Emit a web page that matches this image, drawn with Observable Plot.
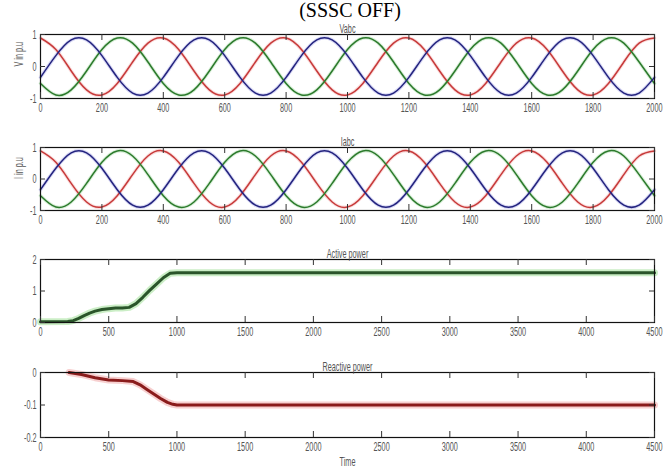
<!DOCTYPE html>
<html><head><meta charset="utf-8">
<script src="https://cdn.jsdelivr.net/npm/d3@7"></script>
<script src="https://cdn.jsdelivr.net/npm/@observablehq/plot@0.6"></script>
<style>
body{margin:0;background:#fff;width:664px;height:473px;overflow:hidden;position:relative}
.p{position:absolute;left:0}
#title{position:absolute;left:0;width:700px;text-align:center;top:0px;font:20px/20px "Liberation Serif","Times New Roman",serif;color:#000}
</style></head><body>
<div id="title">(SSSC OFF)</div>
<div id="p1" class="p" style="top:14px"></div>
<div id="p2" class="p" style="top:127px"></div>
<div id="p3" class="p" style="top:239px"></div>
<div id="p4" class="p" style="top:352px"></div>
<script>
// ---- data ----
const waveTime = [0,50,100,150,200,250,300,350,400,450,500,550,600,650,700,750,800,850,900,950,1000,1050,1100,1150,1200,1250,1300,1350,1400,1450,1500,1550,1600,1650,1700,1750,1800,1850,1900,1950,2000];
const phaseA = [0.89,0.53,-0.14,-0.73,-0.89,-0.53,0.14,0.73, 0.89,0.53,-0.14,-0.73,-0.89,-0.53,0.14,0.73, 0.89,0.53,-0.14,-0.73,-0.89,-0.53,0.14,0.73, 0.89,0.53,-0.14,-0.73,-0.89,-0.53,0.14,0.73, 0.89,0.53,-0.14,-0.73,-0.89,-0.53,0.14,0.73, 0.89];
const phaseB = [-0.34,0.34,0.83,0.83,0.34,-0.34,-0.83,-0.83, -0.34,0.34,0.83,0.83,0.34,-0.34,-0.83,-0.83, -0.34,0.34,0.83,0.83,0.34,-0.34,-0.83,-0.83, -0.34,0.34,0.83,0.83,0.34,-0.34,-0.83,-0.83, -0.34,0.34,0.83,0.83,0.34,-0.34,-0.83,-0.83, -0.34];
const phaseC = [-0.53,-0.89,-0.73,-0.14,0.53,0.89,0.73,0.14, -0.53,-0.89,-0.73,-0.14,0.53,0.89,0.73,0.14, -0.53,-0.89,-0.73,-0.14,0.53,0.89,0.73,0.14, -0.53,-0.89,-0.73,-0.14,0.53,0.89,0.73,0.14, -0.53,-0.89,-0.73,-0.14,0.53,0.89,0.73,0.14, -0.53];
const currentA = phaseA, currentB = phaseB, currentC = phaseC;
const waveTicks = [0,200,400,600,800,1000,1200,1400,1600,1800,2000];
const waveYTicks = [-1,0,1];

const activeTime = [0,200,240,280,320,360,400,450,500,550,600,650,700,750,800,850,900,950,1000,4500];
const activePower = [0.02,0.03,0.06,0.13,0.22,0.3,0.36,0.41,0.44,0.46,0.46,0.48,0.6,0.8,1.02,1.22,1.42,1.56,1.58,1.58];
const reactiveTime = [210,300,400,500,600,680,730,780,830,880,930,970,1000,4500];
const reactivePower = [0,-0.006,-0.016,-0.023,-0.025,-0.028,-0.038,-0.052,-0.066,-0.08,-0.092,-0.098,-0.1,-0.1];
const powerTicks = [0,500,1000,1500,2000,2500,3000,3500,4000,4500];

const FONT = "'Liberation Sans',Arial,sans-serif";
const FRAME_W = 664 - 40 - 10;
const INK = "#333", TXT = "#555";

function panel({xDomain, xTicks, yDomain, yTicks, yFmt, ylabel, title, xlabel, lines, frameH, marginBottom}) {
  const last = xTicks[xTicks.length - 1];
  const marks = [...lines,
    Plot.frame({stroke: "#111", strokeWidth: 1.2}),
    // inward ticks on all four sides
    Plot.ruleX(xTicks, {x: d => d, insetTop: frameH - 6, stroke: INK}),
    Plot.ruleX(xTicks, {x: d => d, insetBottom: frameH - 6, stroke: INK}),
    Plot.ruleY(yTicks, {y: d => d, insetRight: FRAME_W - 5, stroke: INK}),
    Plot.ruleY(yTicks, {y: d => d, insetLeft: FRAME_W - 5, stroke: INK}),
    // tick labels
    Plot.axisX(xTicks.slice(0, -1), {anchor: "bottom", tickSize: 0, tickPadding: 4, tickFormat: d => String(d), label: null, fill: TXT}),
    Plot.text([last], {x: d => d, text: d => String(d), frameAnchor: "bottom", lineAnchor: "top", dy: 4, textAnchor: "end", dx: 8, fill: TXT}),
    Plot.axisY(yTicks, {anchor: "left", tickSize: 0, tickPadding: 4, tickFormat: yFmt, label: null, fill: TXT}),
    Plot.text([title], {frameAnchor: "top", dy: -11, fill: TXT})
  ];
  if (ylabel) marks.push(Plot.text([ylabel], {frameAnchor: "left", rotate: -90, dx: -22, fill: TXT}));
  if (xlabel) marks.push(Plot.text([xlabel], {frameAnchor: "bottom", dy: 28, fill: TXT}));
  const svg = Plot.plot({
    width: 664, height: 20 + frameH + marginBottom,
    marginLeft: 40, marginRight: 10, marginTop: 20, marginBottom,
    style: {fontFamily: FONT, fontSize: "13px", background: "transparent", overflow: "visible"},
    x: {domain: xDomain},
    y: {domain: yDomain},
    marks
  });
  // condense the glyphs horizontally, like the narrow labels of the reference
  svg.querySelectorAll("text").forEach(t => {
    const tr = t.getAttribute("transform");
    if (tr) t.setAttribute("transform", tr + " scale(0.56,1)");
  });
  return svg;
}

function waveLines(a, b, c) {
  const opt = {x: waveTime, curve: "natural", strokeWidth: 1.5};
  return [
    Plot.lineY(a, {...opt, stroke: "#f2a0a0", strokeWidth: 3.5, strokeOpacity: 0.35}),
    Plot.lineY(c, {...opt, stroke: "#90d090", strokeWidth: 3.5, strokeOpacity: 0.35}),
    Plot.lineY(b, {...opt, stroke: "#9090e0", strokeWidth: 3.5, strokeOpacity: 0.35}),
    Plot.lineY(a, {...opt, stroke: "#c73a3a"}),
    Plot.lineY(c, {...opt, stroke: "#2c7a2c"}),
    Plot.lineY(b, {...opt, stroke: "#23237e"})
  ];
}

document.getElementById("p1").append(panel({
  xDomain: [0, 2000], xTicks: waveTicks, yDomain: [-1, 1], yTicks: waveYTicks, yFmt: d => String(d),
  ylabel: "V in p.u", title: "Vabc", lines: waveLines(phaseA, phaseB, phaseC), frameH: 64, marginBottom: 22
}));
document.getElementById("p2").append(panel({
  xDomain: [0, 2000], xTicks: waveTicks, yDomain: [-1, 1], yTicks: waveYTicks, yFmt: d => String(d),
  ylabel: "I in p.u", title: "Iabc", lines: waveLines(currentA, currentB, currentC), frameH: 63, marginBottom: 22
}));
document.getElementById("p3").append(panel({
  xDomain: [0, 4500], xTicks: powerTicks, yDomain: [0, 2], yTicks: [0, 1, 2], yFmt: d => String(d),
  title: "Active power", frameH: 63, marginBottom: 22,
  lines: [
    Plot.line(activePower, {x: activeTime, y: activePower, stroke: "#a8e2a0", strokeWidth: 7, strokeOpacity: 0.6}),
    Plot.line(activePower, {x: activeTime, y: activePower, stroke: "#2a552a", strokeWidth: 3})
  ]
}));
document.getElementById("p4").append(panel({
  xDomain: [0, 4500], xTicks: powerTicks, yDomain: [-0.2, 0], yTicks: [-0.2, -0.1, 0], yFmt: d => d === 0 ? "0" : d.toFixed(1),
  title: "Reactive power", xlabel: "Time", frameH: 65, marginBottom: 36,
  lines: [
    Plot.line(reactivePower, {x: reactiveTime, y: reactivePower, stroke: "#f2b0b0", strokeWidth: 7, strokeOpacity: 0.6}),
    Plot.line(reactivePower, {x: reactiveTime, y: reactivePower, stroke: "#8a1c1c", strokeWidth: 3})
  ]
}));
</script>
</body></html>
